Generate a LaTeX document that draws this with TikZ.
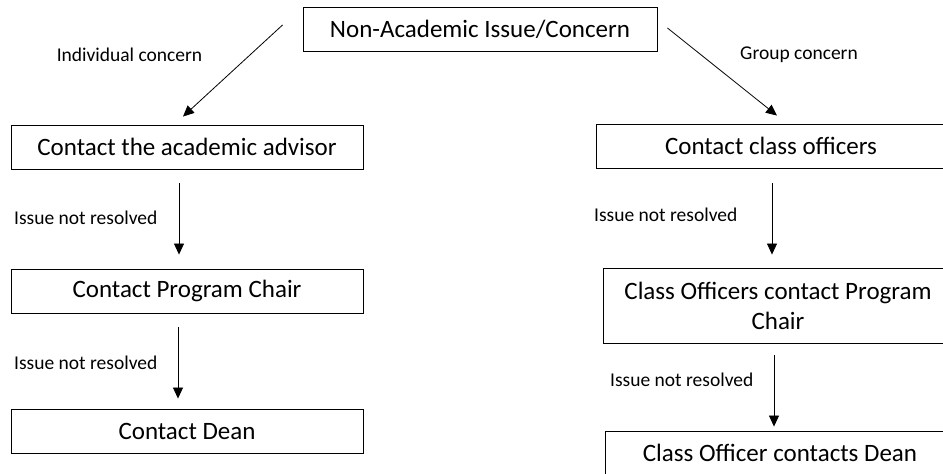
\documentclass[tikz,border=0pt]{standalone}
\usepackage{fontspec}
\setmainfont{Carlito}
\usetikzlibrary{calc, arrows.meta}

\begin{document}
\begin{tikzpicture}[x=1pt,y=-1pt,every node/.style={inner sep=0pt},
box/.style={draw,line width=0.9pt,minimum width=352pt,minimum height=44pt,align=center,font=\fontsize{25}{30}\selectfont},
lbl/.style={font=\fontsize{19.5}{23}\selectfont},
flow/.style={->,>={Triangle[length=11pt,width=10pt]},line width=0.8pt},
%scale=1
]
\useasboundingbox (0,0) rectangle (943,474);
\clip (0,0) rectangle (943,474);
\node [box,minimum width=354pt] (issue) at (480,29.5) {Non-Academic Issue/Concern};
\node [box] (advisor) at (187,147) {Contact the academic advisor};
\node [box] (chair) at (187,291) {Contact Program Chair};
\node [box] (dean) at (187,431) {Contact Dean};
\node [box,minimum width=350pt] (officers) at (771,146) {Contact class officers};
\node [box,minimum width=350pt,minimum height=75pt] (ochair) at (778,305.5) {Class Officers contact Program\\Chair};
\node [box,minimum width=350pt] (odean) at (780,453) {Class Officer contacts Dean};

\node [lbl] (indiv) at (129.5,55) {Individual concern};
\node [lbl] (group) at (799,55) {Group concern};
\node [lbl,anchor=west] (nr1) at (14,218) {Issue not resolved};
\node [lbl,anchor=west] (nr2) at (14,363) {Issue not resolved};
\node [lbl,anchor=west] (nr3) at (594,215) {Issue not resolved};
\node [lbl,anchor=west] (nr4) at (610,380) {Issue not resolved};

\draw [flow] ([shift={(-20,-4.5)}]issue.west) -- ([shift={(-4,-8)}]advisor.north);
\draw [flow] ([shift={(10,-1.5)}]issue.east) -- ([shift={(6,-8)}]officers.north);
\draw [flow] ([shift={(-8,14)}]advisor.south) -- ([shift={(-8,-14)}]chair.north);
\draw [flow] ([shift={(-9,14)}]chair.south) -- ([shift={(-9,-10)}]dean.north);
\draw [flow] ([shift={(1,15)}]officers.south) -- ([shift={(-6,-13)}]ochair.north);
\draw [flow] ([shift={(-4,12)}]ochair.south) -- ([shift={(-6,-4)}]odean.north);
\end{tikzpicture}
\end{document}
